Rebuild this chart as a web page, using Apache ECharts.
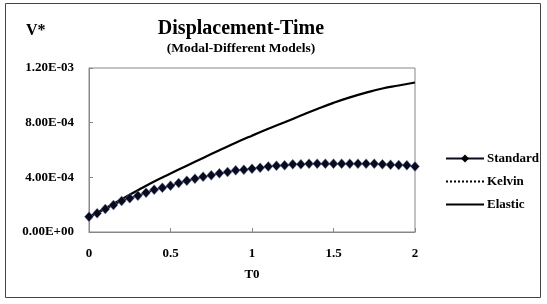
<!DOCTYPE html>
<html>
<head>
<meta charset="utf-8">
<script src="https://cdn.jsdelivr.net/npm/echarts@6/dist/echarts.min.js"></script>
<style>
  html, body { margin: 0; padding: 0; background: #fff; }
  #chart { width: 547px; height: 304px; }
</style>
</head>
<body>
<div id="chart"></div>
<script>
// T0 values for the Standard / Kelvin curves (step 0.05)
const tStandard = [0, 0.05, 0.1, 0.15, 0.2, 0.25, 0.3, 0.35, 0.4, 0.45, 0.5, 0.55, 0.6, 0.65, 0.7, 0.75, 0.8, 0.85, 0.9, 0.95,
  1, 1.05, 1.1, 1.15, 1.2, 1.25, 1.3, 1.35, 1.4, 1.45, 1.5, 1.55, 1.6, 1.65, 1.7, 1.75, 1.8, 1.85, 1.9, 1.95, 2];
const standard = [1.12e-4, 1.37e-4, 1.68e-4, 1.97e-4, 2.27e-4, 2.47e-4, 2.66e-4, 2.88e-4, 3.10e-4, 3.24e-4, 3.39e-4,
  3.58e-4, 3.75e-4, 3.90e-4, 4.05e-4, 4.15e-4, 4.29e-4, 4.39e-4, 4.51e-4, 4.56e-4, 4.63e-4, 4.70e-4, 4.80e-4, 4.85e-4,
  4.88e-4, 4.95e-4, 4.95e-4, 5.00e-4, 5.00e-4, 5.00e-4, 5.00e-4, 5.00e-4, 5.00e-4, 5.00e-4, 5.00e-4, 5.00e-4,
  4.95e-4, 4.92e-4, 4.90e-4, 4.88e-4, 4.80e-4];
// Kelvin curve lies under the Standard markers
const kelvin = [1.12e-4, 1.37e-4, 1.68e-4, 1.97e-4, 2.27e-4, 2.47e-4, 2.66e-4, 2.88e-4, 3.10e-4, 3.24e-4, 3.39e-4,
  3.58e-4, 3.75e-4, 3.90e-4, 4.05e-4, 4.15e-4, 4.29e-4, 4.39e-4, 4.51e-4, 4.56e-4, 4.63e-4, 4.70e-4, 4.80e-4, 4.85e-4,
  4.88e-4, 4.95e-4, 4.95e-4, 5.00e-4, 5.00e-4, 5.00e-4, 5.00e-4, 5.00e-4, 5.00e-4, 5.00e-4, 5.00e-4, 5.00e-4,
  4.95e-4, 4.92e-4, 4.90e-4, 4.88e-4, 4.80e-4];
// Elastic curve (step 0.1)
const tElastic = [0, 0.1, 0.2, 0.3, 0.4, 0.5, 0.6, 0.7, 0.8, 0.9, 1, 1.1, 1.2, 1.3, 1.4, 1.5, 1.6, 1.7, 1.8, 1.9, 2];
const elastic = [1.12e-4, 1.74e-4, 2.40e-4, 3.06e-4, 3.70e-4, 4.28e-4, 4.85e-4, 5.42e-4, 5.98e-4, 6.53e-4, 7.05e-4,
  7.55e-4, 8.03e-4, 8.52e-4, 9.00e-4, 9.45e-4, 9.85e-4, 1.02e-3, 1.05e-3, 1.072e-3, 1.094e-3];

const font = '"Liberation Serif", "Times New Roman", serif';

function pairs(xs, ys) {
  return xs.map((x, i) => [x, ys[i]]);
}

function sciLabel(v) {
  if (v === 0) return '0.00E+00';
  const s = v.toExponential(2).toUpperCase();
  const [m, e] = s.split('E');
  const sign = e[0] === '-' ? '-' : '+';
  const digits = e.replace(/[+-]/, '').padStart(2, '0');
  return m + 'E' + sign + digits;
}

let myChart = echarts.init(document.getElementById('chart'));
myChart.setOption({
  animation: false,
  backgroundColor: '#fff',
  textStyle: { fontFamily: font },
  title: {
    text: 'Displacement-Time',
    subtext: '(Modal-Different Models)',
    left: 236,
    textAlign: 'center',
    top: 14,
    itemGap: 3,
    textStyle: { fontFamily: font, fontSize: 20, fontWeight: 'bold', color: '#000' },
    subtextStyle: { fontFamily: font, fontSize: 13.5, fontWeight: 'bold', color: '#000' }
  },
  graphic: [
    {
      type: 'rect',
      shape: { x: 5.5, y: 3.5, width: 535, height: 294 },
      style: { fill: 'none', stroke: '#444', lineWidth: 1 },
      silent: true
    },
    {
      type: 'text',
      left: 26,
      top: 23,
      style: { text: 'V*', font: 'bold 16px ' + font, fill: '#000' }
    }
  ],
  legend: {
    data: [
      { name: 'Standard', itemStyle: { borderWidth: 0, color: '#000' } },
      { name: 'Kelvin', itemStyle: { opacity: 0 } },
      { name: 'Elastic', itemStyle: { opacity: 0 } }
    ],
    orient: 'vertical',
    left: 440,
    top: 147,
    itemWidth: 38,
    itemHeight: 10,
    itemGap: 10,
    textStyle: { fontFamily: font, fontSize: 13, fontWeight: 'bold', color: '#000', padding: [0, 0, 0, -2] }
  },
  grid: {
    left: 89,
    right: 132,
    top: 68,
    bottom: 72,
    show: true,
    borderColor: '#888',
    borderWidth: 1
  },
  xAxis: {
    type: 'value',
    min: 0,
    max: 2,
    interval: 0.5,
    name: 'T0',
    nameLocation: 'middle',
    nameGap: 36,
    nameTextStyle: { fontFamily: font, fontSize: 13, fontWeight: 'bold', color: '#000' },
    axisLine: { lineStyle: { color: '#888' } },
    axisTick: { inside: true, length: 4, lineStyle: { color: '#888' } },
    splitLine: { show: false },
    axisLabel: { margin: 15, fontFamily: font, fontSize: 13, fontWeight: 'bold', color: '#000' }
  },
  yAxis: {
    type: 'value',
    min: 0,
    max: 1.2e-3,
    interval: 4e-4,
    axisLine: { show: true, lineStyle: { color: '#888' } },
    axisTick: { show: true, inside: true, length: 4, lineStyle: { color: '#888' } },
    splitLine: { show: false },
    axisLabel: {
      margin: 15,
      fontFamily: font,
      fontSize: 13,
      fontWeight: 'bold',
      color: '#000',
      formatter: sciLabel
    }
  },
  series: [
    {
      name: 'Kelvin',
      type: 'line',
      data: pairs(tStandard, kelvin),
      symbol: 'none',
      z: 1,
      lineStyle: { color: '#000', width: 1.5, type: 'dotted' },
      itemStyle: { color: '#000' }
    },
    {
      name: 'Elastic',
      type: 'line',
      data: pairs(tElastic, elastic),
      symbol: 'none',
      smooth: true,
      z: 2,
      lineStyle: { color: '#000', width: 2.2 },
      itemStyle: { color: '#000' }
    },
    {
      name: 'Standard',
      type: 'line',
      data: pairs(tStandard, standard),
      symbol: 'diamond',
      symbolSize: [9, 10],
      z: 3,
      lineStyle: { color: '#0a0a1e', width: 1.5 },
      itemStyle: { color: '#0a0a1e', borderColor: '#7890b8', borderWidth: 0.5 }
    }
  ]
});
</script>
</body>
</html>
